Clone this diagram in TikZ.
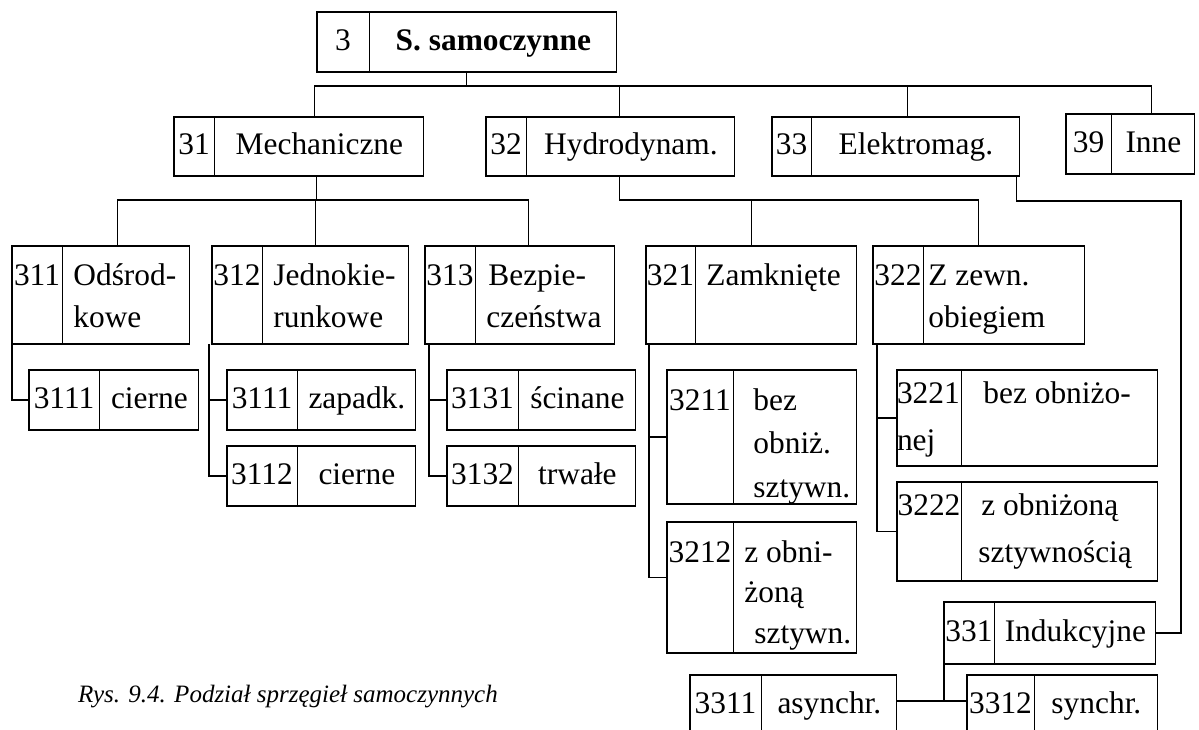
\documentclass[tikz,border=0pt]{standalone}
\usepackage{fontspec}
\setmainfont{Liberation Serif}
\usepackage{tikz}
\usetikzlibrary{shapes.multipart}
\newdimen\upx \upx=0.5pt
\newcommand{\boxfont}{\fontsize{15.7}{21}\selectfont}
% cell contents: width, height in px
\newcommand{\cmid}[3]{\parbox[c][#2\upx][c]{#1\upx}{\centering\strut #3}}
\newcommand{\ntop}[4][19.5]{\parbox[c][#3\upx][t]{#2\upx}{\centering\rule{0pt}{#1pt}#4}}
\newcommand{\ltop}[5][19.5]{\parbox[c][#3\upx][t]{#2\upx}{\raggedright\leftskip=#4\upx\rule{0pt}{#1pt}#5}}
\tikzset{
  cell/.style={rectangle split,rectangle split horizontal,rectangle split parts=2,draw,line width=0.7pt,inner sep=0pt,outer sep=0pt,anchor=north west,font=\boxfont},
  conn/.style={draw,line width=0.7pt},
  caption/.style={font=\fontsize{12.5}{14}\selectfont\itshape}
}

\begin{document}
\begin{tikzpicture}[x=0.5pt,y=-0.5pt]
  \clip (0,0) rectangle (1199,729);
  % Root
  \node[cell] (c3) at (317,12) {\cmid{52}{60}{3}\nodepart{two}\cmid{246}{60}{\textbf{S. samoczynne}}};

  % Main groups
  \node[cell] (c31) at (174,117) {\cmid{40}{59}{31}\nodepart{two}\cmid{208}{59}{Mechaniczne}};
  \node[cell] (c32) at (486,117) {\cmid{40}{59}{32}\nodepart{two}\cmid{207}{59}{Hydrodynam.}};
  \node[cell] (c33) at (772,117) {\cmid{39}{59}{33}\nodepart{two}\cmid{207}{59}{Elektromag.}};
  \node[cell] (c39) at (1066,114) {\cmid{45}{60}{39}\nodepart{two}\cmid{82}{60}{Inne}};

  % Second level
  \node[cell] (c311) at (12,246) {\ntop{50}{98}{311}\nodepart{two}\ltop{126}{98}{10}{Odśrod-\\kowe}};
  \node[cell] (c312) at (212,246) {\ntop{50}{98}{312}\nodepart{two}\ltop{145}{98}{10}{Jednokie-\\runkowe}};
  \node[cell] (c313) at (425,246) {\ntop{50}{98}{313}\nodepart{two}\ltop{138}{98}{10}{\hspace*{1pt}Bezpie-\\czeństwa}};
  \node[cell] (c321) at (646,246) {\ntop{49}{98}{321}\nodepart{two}\ltop{160}{98}{10}{Zamknięte}};
  \node[cell] (c322) at (873,246) {\ntop{50}{98}{322}\nodepart{two}\ltop{160}{98}{4}{Z zewn.\\obiegiem}};

  % Third level, left
  \node[cell] (c3111) at (29,370) {\cmid{70}{60}{3111}\nodepart{two}\cmid{98}{60}{cierne}};
  \node[cell] (c3121) at (227,370) {\cmid{70}{60}{3111}\nodepart{two}\cmid{117}{60}{zapadk.}};
  \node[cell] (c3122) at (227,446) {\cmid{70}{60}{3112}\nodepart{two}\cmid{117}{60}{cierne}};
  \node[cell] (c3131) at (447,370) {\cmid{71}{60}{3131}\nodepart{two}\cmid{116}{60}{ścinane}};
  \node[cell] (c3132) at (447,446) {\cmid{71}{60}{3132}\nodepart{two}\cmid{116}{60}{trwałe}};

  % Third level, right
  \node[cell] (c3211) at (667,370) {\ntop[20]{66}{134}{3211}\nodepart{two}\ltop[20]{122}{134}{19}{\baselineskip=21.75pt bez\\obniż.\\sztywn.}};
  \node[cell] (c3212) at (667,522) {\ntop[20]{66}{131}{3212}\nodepart{two}\ltop[20]{122}{131}{10}{\baselineskip=20.25pt z obni-\\żoną\\\hspace*{5pt}sztywn.}};
  \node[cell] (c3221) at (897,370) {\ltop[16.5]{64}{96}{0}{\baselineskip=23.5pt 3221\\nej}\nodepart{two}\ltop[16.5]{195}{96}{21}{bez obniżo-}};
  \node[cell] (c3222) at (897,482) {\ntop[16.5]{64}{99}{3222}\nodepart{two}\ltop[16.5]{195}{99}{19}{\baselineskip=23.5pt z obniżoną\\\hspace*{-1.5pt}sztywnością}};
  \node[cell] (c331) at (944,602) {\cmid{50}{62}{331}\nodepart{two}\cmid{160}{62}{Indukcyjne}};
  \node[cell] (c3311) at (690,675) {\cmid{71}{60}{3311}\nodepart{two}\cmid{134}{60}{asynchr.}};
  \node[cell] (c3312) at (967,675) {\cmid{67}{60}{3312}\nodepart{two}\cmid{122}{60}{synchr.}};

  % Caption
  \node[caption] (cap) at (288,697) {Rys. 9.4. Podział sprzęgieł samoczynnych};

  % Links from root
  \coordinate (b3) at ([yshift=-7pt]c3.south);
  \draw[conn] (c3.south) -- (b3);
  \draw[conn] (b3) -| ([xshift=8pt]c31.north);
  \draw[conn] (b3) -| ([xshift=4.75pt]c32.north);
  \draw[conn] (b3) -| ([xshift=6pt]c33.north);
  \draw[conn] (b3) -| ([xshift=10.75pt]c39.north);

  % Links from 31
  \coordinate (b31) at ([xshift=-1.5pt,yshift=-12pt]c31.two south);
  \draw[conn] (b31 |- c31.south) -- (b31);
  \draw[conn] (b31) -| ([xshift=8.5pt]c311.north);
  \draw[conn] (b31) -| ([xshift=2.75pt]c312.north);
  \draw[conn] (b31) -| ([xshift=4.25pt]c313.north);

  % Links from 32
  \coordinate (b32) at ([xshift=4.75pt,yshift=-12pt]c32.south);
  \draw[conn] (b32 |- c32.south) -- (b32) -| (c322.north);
  \draw[conn] (b32) -| (c321.north);

  % Link from 33 to 331
  \coordinate (k33) at (1181,201);
  \draw[conn] ([xshift=-1.5pt]c33.south east) |- (k33) |- (c331.east);

  % Side brackets
  \draw[conn] (c311.south west) |- (c3111.west);
  \draw[conn] ([xshift=-1.5pt]c312.south west) |- (c3121.west);
  \draw[conn] ([xshift=-1.5pt]c312.south west) |- (c3122.west);
  \draw[conn] ([xshift=2pt]c313.south west) |- (c3131.west);
  \draw[conn] ([xshift=2pt]c313.south west) |- (c3132.west);
  \draw[conn] ([xshift=1.5pt]c321.south west) |- (c3211.west);
  \draw[conn] ([xshift=1.5pt]c321.south west) |- ([yshift=5pt]c3212.west);
  \draw[conn] ([xshift=2pt]c322.south west) |- (c3221.west);
  \draw[conn] ([xshift=2pt]c322.south west) |- (c3222.west);
  \draw[conn] (c331.south west) |- ([yshift=2pt]c3311.east);
  \draw[conn] (c331.south west) |- ([yshift=2pt]c3312.west);
\end{tikzpicture}
\end{document}
